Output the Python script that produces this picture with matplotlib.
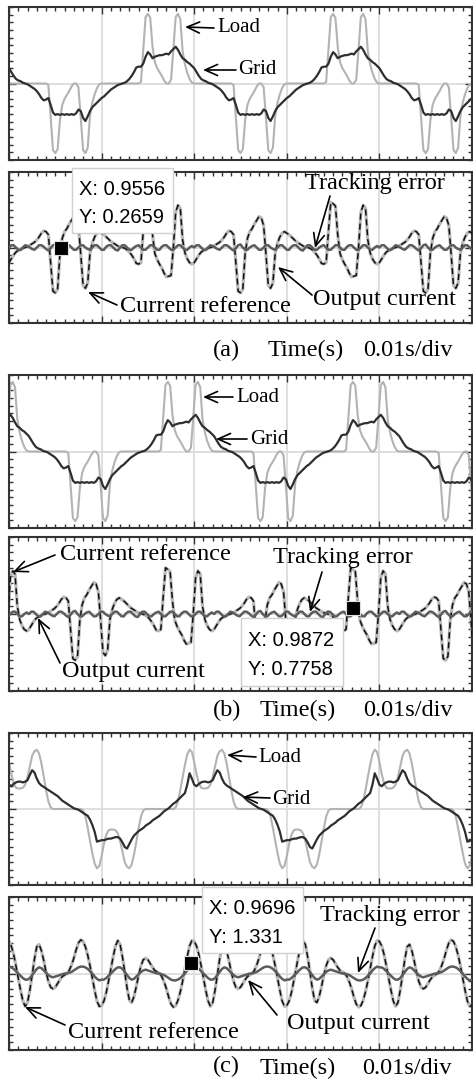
import numpy as np
import matplotlib
matplotlib.use("Agg")
import matplotlib.pyplot as plt
from matplotlib.patches import FancyArrowPatch, Rectangle

# ---------------- data (one 20 ms period, sampled every 0.25 ms) ----------------
STEP_MS = 0.25

GRID_AB = [0.20, 0.15, 0.10, 0.06, 0.04, 0.03, 0.01, 0.00,
           -0.01, -0.03, -0.05, -0.07, -0.10, -0.14, -0.19, -0.22,
           -0.21, -0.19, -0.28, -0.38, -0.41, -0.40, -0.41, -0.40,
           -0.41, -0.40, -0.41, -0.40, -0.41, -0.39, -0.34, -0.36,
           -0.45, -0.49, -0.43, -0.36, -0.31, -0.28, -0.25, -0.22,
           -0.19, -0.17, -0.14, -0.11, -0.08, -0.06, -0.04, -0.02,
           -0.01, 0.00, 0.01, 0.03, 0.06, 0.10, 0.15, 0.21,
           0.22, 0.22, 0.26, 0.35, 0.41, 0.38, 0.33, 0.35,
           0.36, 0.37, 0.37, 0.38, 0.39, 0.38, 0.42, 0.45,
           0.48, 0.44, 0.38, 0.33, 0.31, 0.28, 0.26, 0.23]

LOAD_AB = [0, 0, 0, 0, 0, 0, 0, 0,
           0, 0, 0, 0, 0, 0, 0, 0,
           0, -0.02, -0.45, -0.87, -0.91, -0.86, -0.48, -0.28,
           -0.20, -0.15, -0.10, -0.04, 0, 0, -0.05, -0.45,
           -0.87, -0.91, -0.84, -0.42, -0.25, -0.14, -0.06, -0.01,
           0, 0, 0, 0, 0, 0, 0, 0,
           0, 0, 0, 0, 0, 0, 0, 0,
           0, 0.02, 0.45, 0.87, 0.91, 0.86, 0.48, 0.28,
           0.20, 0.15, 0.10, 0.04, 0, 0, 0.05, 0.45,
           0.87, 0.91, 0.84, 0.42, 0.25, 0.14, 0.06, 0.01]

REF_AB = [-0.20, -0.15, -0.10, -0.06, -0.04, -0.03, -0.01, 0.00,
          0.01, 0.03, 0.05, 0.07, 0.10, 0.14, 0.19, 0.22,
          0.21, 0.17, -0.20, -0.58, -0.60, -0.55, -0.08, 0.12,
          0.21, 0.25, 0.31, 0.36, 0.41, 0.39, 0.29, -0.09,
          -0.50, -0.54, -0.47, -0.07, 0.06, 0.14, 0.19, 0.21,
          0.19, 0.17, 0.14, 0.11, 0.08, 0.06, 0.04, 0.02,
          0.01, 0.00, -0.01, -0.03, -0.06, -0.10, -0.15, -0.21,
          -0.22, -0.20, 0.22, 0.60, 0.58, 0.55, 0.17, -0.08,
          -0.16, -0.22, -0.27, -0.34, -0.39, -0.38, -0.37, 0.00,
          0.47, 0.56, 0.52, 0.10, -0.07, -0.15, -0.20, -0.22]

ERR_AB = [0.00, 0.03, 0.03, 0.00, -0.03, -0.03, 0.00, 0.03, 0.02, 0.00,
          -0.02, -0.03, 0.00, 0.03, 0.03, 0.01, -0.02, -0.04, -0.01, 0.03,
          0.04, 0.00, -0.03, -0.03, 0.00, 0.02, 0.03, 0.00, -0.03, -0.03,
          0.00, 0.03, 0.03, 0.00, -0.02, -0.03, 0.00, 0.03, 0.03, 0.00,
          -0.03, -0.03, 0.01, 0.03, 0.03, 0.00, -0.03, -0.04, 0.00, 0.03,
          0.03, 0.00, -0.03, -0.03, 0.00, 0.02, 0.03, 0.00, -0.03, -0.03,
          0.00, 0.03, 0.03, 0.00, -0.03, -0.03, 0.01, 0.03, 0.03, 0.00,
          -0.03, -0.03, 0.00, 0.03, 0.03, 0.00, -0.03, -0.03, 0.00, 0.02]

GRID_C = [0.32, 0.30, 0.33, 0.35, 0.36, 0.36, 0.35, 0.36,
          0.38, 0.45, 0.51, 0.48, 0.40, 0.34, 0.31, 0.29,
          0.27, 0.25, 0.23, 0.21, 0.19, 0.17, 0.14, 0.11,
          0.09, 0.07, 0.05, 0.03, 0.01, 0.00, -0.01, -0.03,
          -0.05, -0.07, -0.09, -0.14, -0.21, -0.30, -0.43, -0.42,
          -0.41, -0.41, -0.40, -0.39, -0.39, -0.38, -0.37, -0.37,
          -0.39, -0.44, -0.50, -0.52, -0.46, -0.40, -0.35, -0.32,
          -0.29, -0.27, -0.25, -0.22, -0.20, -0.18, -0.15, -0.13,
          -0.11, -0.09, -0.06, -0.03, -0.01, 0.01, 0.04, 0.07,
          0.09, 0.12, 0.15, 0.18, 0.21, 0.32, 0.47, 0.40]

LOAD_C = [0.62, 0.46, 0.34, 0.28, 0.27, 0.27, 0.28, 0.32,
          0.42, 0.56, 0.70, 0.76, 0.78, 0.73, 0.60, 0.43,
          0.25, 0.10, 0.02, 0, 0, 0, 0, 0,
          0, 0, 0, 0, 0, 0, 0, 0,
          -0.02, -0.10, -0.25, -0.42, -0.58, -0.72, -0.78, -0.75,
          -0.62, -0.46, -0.34, -0.28, -0.27, -0.27, -0.28, -0.32,
          -0.42, -0.56, -0.70, -0.76, -0.78, -0.73, -0.60, -0.43,
          -0.25, -0.10, -0.02, 0, 0, 0, 0, 0,
          0, 0, 0, 0, 0, 0, 0, 0,
          0.02, 0.10, 0.25, 0.42, 0.58, 0.72, 0.78, 0.75]

REF_C = [0.42, 0.36, 0.25, 0.10, -0.06, -0.22, -0.36, -0.43,
         -0.38, -0.22, -0.02, 0.19, 0.35, 0.38, 0.30, 0.17,
         0.02, -0.10, -0.18, -0.20, -0.18, -0.13, -0.08, -0.04,
         -0.02, 0.00, 0.04, 0.11, 0.20, 0.31, 0.40, 0.44,
         0.42, 0.35, 0.24, 0.10, -0.06, -0.22, -0.36, -0.43,
         -0.42, -0.36, -0.25, -0.10, 0.06, 0.22, 0.36, 0.43,
         0.38, 0.22, 0.02, -0.19, -0.35, -0.38, -0.30, -0.17,
         -0.02, 0.10, 0.18, 0.20, 0.18, 0.13, 0.08, 0.04,
         0.02, 0.00, -0.04, -0.11, -0.20, -0.31, -0.40, -0.44,
         -0.42, -0.35, -0.24, -0.10, 0.06, 0.22, 0.36, 0.43]

ERR_C = [0.08, 0.08, 0.06, 0.03, 0.00, -0.03, -0.06, -0.08,
         -0.08, -0.06, -0.02, 0.02, 0.06, 0.08, 0.07, 0.04,
         0.01, -0.02, -0.04, -0.05, -0.04, -0.03, -0.02, -0.01,
         0.00, 0.00, 0.01, 0.02, 0.04, 0.06, 0.08, 0.09,
         0.09, 0.08, 0.06, 0.03, 0.00, -0.04, -0.07, -0.09,
         -0.08, -0.08, -0.06, -0.03, 0.00, 0.03, 0.06, 0.08,
         0.08, 0.06, 0.02, -0.02, -0.06, -0.08, -0.07, -0.04,
         -0.01, 0.02, 0.04, 0.05, 0.04, 0.03, 0.02, 0.01,
         0.00, 0.00, -0.01, -0.02, -0.04, -0.06, -0.08, -0.09,
         -0.09, -0.08, -0.06, -0.03, 0.00, 0.04, 0.07, 0.09]

PHASE_MS = [0.0, 2.15, 0.0]
TIPS = [("X: 0.9556", "Y: 0.2659"), ("X: 0.9872", "Y: 0.7758"), ("X: 0.9696", "Y: 1.331")]
TIP_POINTS = [(0.00562, 0.0), (0.03715, 0.08), (0.01965, 0.14)]

# ---------------- figure ----------------
W, H = 473, 1086
fig = plt.figure(figsize=(W / 100, H / 100), dpi=100)
SERIF = ["Liberation Serif", "DejaVu Serif"]
SANS = ["Liberation Sans", "DejaVu Sans"]


def fx(x):
    return x / W


def fy(y):
    return 1 - y / H


def new_axes(top, bottom, left=9, right=472):
    ax = fig.add_axes([fx(left), fy(bottom), (right - left) / W, (bottom - top) / H])
    ax.set_xlim(0, 0.05)
    ax.set_ylim(-1, 1)
    ax.set_xticks(np.arange(0, 0.0501, 0.01))
    ax.set_xticks(np.arange(0, 0.0501, 0.001), minor=True)
    ax.set_yticks([0])
    ax.set_yticks(np.arange(-1, 1.001, 0.1), minor=True)
    ax.tick_params(which="both", direction="in", top=True, right=True,
                   labelbottom=False, labelleft=False, color="#333333")
    ax.tick_params(which="major", length=5, width=1.0)
    ax.tick_params(which="minor", length=3, width=1.0)
    ax.grid(True, which="major", color="#dcdcdc", lw=1.3)
    for s in ax.spines.values():
        s.set_color("#333333")
        s.set_linewidth(1.5)
    return ax


def periodic(vals, phase_ms):
    v = np.tile(np.asarray(vals, float), 4)
    t = (np.arange(len(v)) * STEP_MS - 20 + phase_ms) / 1000.0
    return t, v


def text(x, y, s, size, family=SERIF, ha="left"):
    fig.text(fx(x), fy(y), s, fontsize=size, family=family, ha=ha, va="center",
             color="black", zorder=20)


def arrow(tail, head):
    a = FancyArrowPatch((fx(tail[0]), fy(tail[1])), (fx(head[0]), fy(head[1])),
                        transform=fig.transFigure, arrowstyle="->,head_length=0.45,head_width=0.2",
                        mutation_scale=20, lw=1.2, color="black", zorder=19,
                        shrinkA=0, shrinkB=0)
    fig.add_artist(a)


def tip(box, lines):
    x0, y0, x1, y1 = box
    r = Rectangle((fx(x0), fy(y1)), (x1 - x0) / W, (y1 - y0) / H, transform=fig.transFigure,
                  facecolor="white", edgecolor="#d0d0d0", lw=1.0, zorder=18)
    fig.add_artist(r)
    h = (y1 - y0)
    text(x0 + 7, y0 + h * 0.33, lines[0], 14.5, SANS)
    text(x0 + 7, y0 + h * 0.76, lines[1], 14.5, SANS)


layout = [((7, 160), (172, 323)), ((375, 528), (537, 691)), ((733, 885), (897, 1050))]
grids = [GRID_AB, GRID_AB, GRID_C]
loads = [LOAD_AB, LOAD_AB, LOAD_C]
refs = [REF_AB, REF_AB, REF_C]
errs = [ERR_AB, ERR_AB, ERR_C]

for i in range(3):
    (t1, b1), (t2, b2) = layout[i]
    ax1 = new_axes(t1, b1)
    t, v = periodic(loads[i], PHASE_MS[i])
    ax1.plot(t, v, color="#b3b3b3", lw=1.5, zorder=2)
    t, v = periodic(grids[i], PHASE_MS[i])
    ax1.plot(t, v, color="#2e2e2e", lw=1.6, zorder=3)

    ax2 = new_axes(t2, b2)
    t, v = periodic(refs[i], PHASE_MS[i])
    ax2.plot(t, v, color="#b8b8b8", lw=2.3, zorder=2)
    ax2.plot(t, v, color="#111111", lw=1.1, ls=(0, (4, 2.5)), zorder=3)
    t, v = periodic(errs[i], PHASE_MS[i])
    ax2.plot(t, v, color="#5c5c5c", lw=1.8, zorder=4)
    px, py = TIP_POINTS[i]
    ax2.plot([px], [py], marker="s", ms=9.5, mfc="black", mec="#e0e0e0", mew=0.8, zorder=6)

# ---- annotations panel (a)
text(217, 28, "Load", 15)
arrow((214, 28), (185, 27))
text(238, 70, "Grid", 15)
arrow((236, 70), (203, 70))
text(305, 184, "Tracking error", 17.5)
arrow((330, 196), (315, 248))
text(120, 307, "Current reference", 17.5)
arrow((117, 305), (88, 292))
text(313, 299, "Output current", 17.5)
arrow((312, 295), (278, 267))
tip((72, 168, 173, 233), TIPS[0])
text(213, 350, "(a)", 17.5)
text(268, 350, "Time(s)", 17.5)
text(363, 350, "0.01s/div", 17.5)

# ---- annotations panel (b)
text(236, 397, "Load", 15)
arrow((233, 397), (203, 397))
text(250, 439, "Grid", 15)
arrow((247, 439), (216, 439))
text(60, 555, "Current reference", 17.5)
arrow((55, 555), (13, 572))
text(273, 557, "Tracking error", 17.5)
arrow((322, 572), (310, 612))
text(62, 672, "Output current", 17.5)
arrow((60, 663), (38, 618))
tip((241, 618, 343, 686), TIPS[1])
text(213, 710, "(b)", 17.5)
text(260, 710, "Time(s)", 17.5)
text(363, 710, "0.01s/div", 17.5)

# ---- annotations panel (c)
text(258, 758, "Load", 15)
arrow((256, 757), (227, 755))
text(272, 800, "Grid", 15)
arrow((270, 798), (243, 797))
text(320, 915, "Tracking error", 17.5)
arrow((375, 928), (358, 973))
text(68, 1032, "Current reference", 17.5)
arrow((65, 1025), (25, 1007))
text(287, 1023, "Output current", 17.5)
arrow((277, 1015), (248, 980))
tip((202, 887, 303, 953), TIPS[2])
text(213, 1066, "(c)", 17.5)
text(260, 1068, "Time(s)", 17.5)
text(362, 1068, "0.01s/div", 17.5)

fig.savefig("out.png", dpi=100)
